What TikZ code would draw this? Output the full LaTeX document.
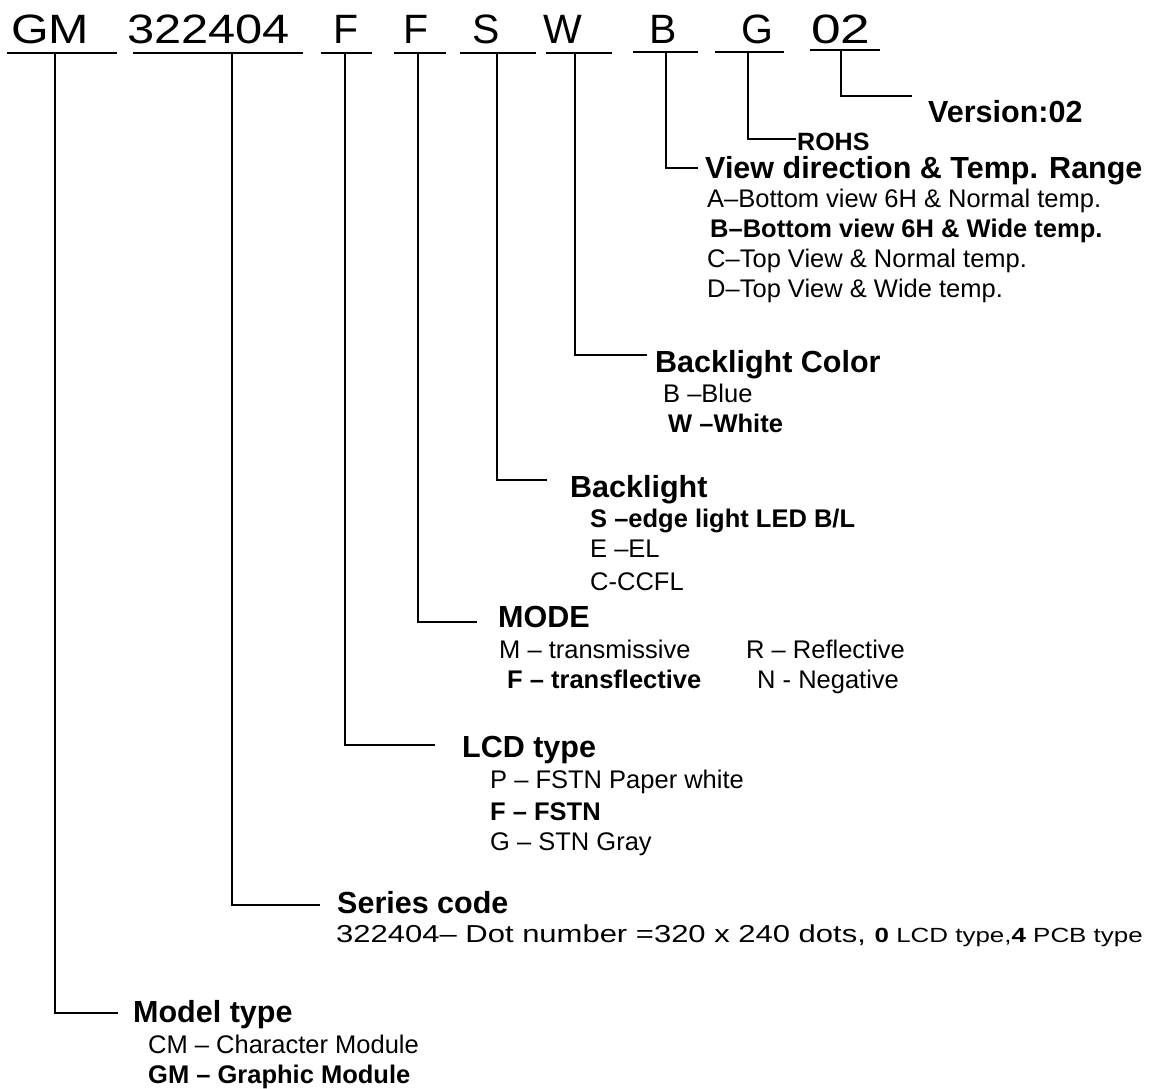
\documentclass[tikz,border=0pt]{standalone}
\usepackage{fontspec}
\setmainfont{Liberation Sans}
\tikzset{
  codigo/.style={anchor=base west,inner sep=0pt,font=\fontsize{41}{46}\selectfont},
  titulo/.style={anchor=base west,inner sep=0pt,font=\fontsize{30.5}{36}\selectfont\bfseries},
  item/.style={anchor=base west,inner sep=0pt,font=\fontsize{25.5}{30}\selectfont},
  itemb/.style={item,font=\fontsize{25.5}{30}\selectfont\bfseries},
  sublinha/.style={line width=2pt,black},
  liga/.style={line width=2pt,black}
}

\begin{document}
\begin{tikzpicture}[x=1pt,y=-1pt]
\useasboundingbox (0,0) rectangle (1159,1088);
% codigo do modulo
\node[codigo] (cGM) at (11,43) {\scalebox{1.18}[1]{GM}};
\node[codigo] (cSer) at (127,43) {\scalebox{1.19}[1]{322404}};
\node[codigo] (cLcd) at (333,43) {F};
\node[codigo] (cMod) at (403,43) {F};
\node[codigo] (cBl) at (472,43) {S};
\node[codigo] (cCor) at (543,43) {W};
\node[codigo] (cVis) at (649,43) {B};
\node[codigo] (cRohs) at (741,43) {G};
\node[codigo] (cVer) at (811,43) {\scalebox{1.3}[1]{02}};
\draw[sublinha] (7,53) -- (117,53);
\draw[sublinha] (133,53) -- (303,53);
\draw[sublinha] (321,53) -- (372,53);
\draw[sublinha] (394,53) -- (446,53);
\draw[sublinha] (460,53) -- (536,53);
\draw[sublinha] (546,53) -- (612,53);
\draw[sublinha] (633,52) -- (698,52);
\draw[sublinha] (715,52) -- (784,52);
\draw[sublinha] (810,50) -- (880,50);
\coordinate (uGM) at (55,53);
\coordinate (uSer) at (232,53);
\coordinate (uLcd) at (345,53);
\coordinate (uMod) at (418,53);
\coordinate (uBl) at (497,53);
\coordinate (uCor) at (575,53);
\coordinate (uVis) at (666,52);
\coordinate (uRohs) at (748,52);
\coordinate (uVer) at (841,50);
\coordinate (fGM) at (118,1013);
\coordinate (fSer) at (320,905);
\coordinate (fLcd) at (435,745);
\coordinate (fMod) at (477,622);
\coordinate (fBl) at (547,480);
\coordinate (fCor) at (647,355);
\coordinate (fVis) at (698,168);
\coordinate (fRohs) at (796,139);
\coordinate (fVer) at (912,96);
\draw[liga] (uGM) |- (fGM);
\draw[liga] (uSer) |- (fSer);
\draw[liga] (uLcd) |- (fLcd);
\draw[liga] (uMod) |- (fMod);
\draw[liga] (uBl) |- (fBl);
\draw[liga] (uCor) |- (fCor);
\draw[liga] (uVis) |- (fVis);
\draw[liga] (uRohs) |- (fRohs);
\draw[liga] (uVer) |- (fVer);
% versao e rohs
\node[titulo] (tVer) at (928,122) {Version:02};
\node[titulo,font=\fontsize{25}{30}\selectfont\bfseries] (tRohs) at (797,150.5) {ROHS};
% direcao de visao
\node[titulo] (tVis) at (705,178) {View direction \& Temp. Range};
\node[item] (vA) at (707,207) {A–Bottom view 6H \& Normal temp.};
\node[itemb] (vB) at (710,237) {B–Bottom view 6H \& Wide temp.};
\node[item] (vC) at (707,267) {C–Top View \& Normal temp.};
\node[item] (vD) at (707,297) {D–Top View \& Wide temp.};
% cor da luz de fundo
\node[titulo] (tCor) at (655,372) {Backlight Color};
\node[item] (corB) at (663,402) {B –Blue};
\node[itemb] (corW) at (668,432) {W –White};
% luz de fundo
\node[titulo] (tBl) at (570,497) {Backlight};
\node[itemb] (blS) at (590,527) {S –edge light LED B/L};
\node[item] (blE) at (590,557) {E –EL};
\node[item] (blC) at (590,590) {C-CCFL};
% modo
\node[titulo] (tMod) at (498,627) {MODE};
\node[item] (modM) at (499,658) {M – transmissive};
\node[item] (modR) at (746,658) {R – Reflective};
\node[itemb] (modF) at (507,688) {F – transflective};
\node[item] (modN) at (757,688) {N - Negative};
% tipo de lcd
\node[titulo] (tLcd) at (462,757) {LCD type};
\node[item] (lcdP) at (490,788) {P – FSTN Paper white};
\node[itemb] (lcdF) at (490,820) {F – FSTN};
\node[item] (lcdG) at (490,850) {G – STN Gray};
% serie
\node[titulo] (tSer) at (337,913) {Series code};
\node[item] (serD) at (336,942) {\scalebox{1.265}[1]{\fontsize{24.5}{30}\selectfont 322404– Dot number =320 x 240 dots, {\fontsize{20.5}{24}\selectfont\textbf{0} LCD type,\textbf{4} PCB type}}};
% modelo
\node[titulo] (tGM) at (133,1022) {Model type};
\node[item] (gmC) at (148,1053) {CM – Character Module};
\node[itemb] (gmG) at (148,1083) {GM – Graphic Module};
\end{tikzpicture}
\end{document}
